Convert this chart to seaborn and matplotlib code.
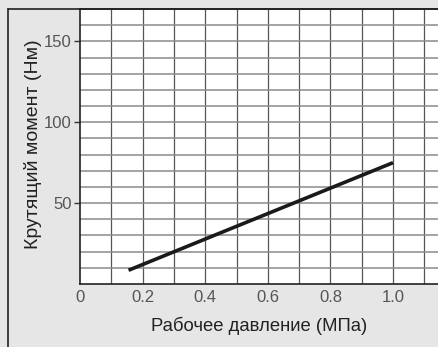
import numpy as np
import pandas as pd
import matplotlib.pyplot as plt
import seaborn as sns
from matplotlib.lines import Line2D

# данные
pressure = [0.155, 1.0]      # МПа
torque = [8.5, 75.0]         # Нм
x_ticks = [0, 0.2, 0.4, 0.6, 0.8, 1.0]
x_labels = ["0", "0.2", "0.4", "0.6", "0.8", "1.0"]
y_ticks = [50, 100, 150]
y_labels = ["50", "100", "150"]

sns.set_theme(style="white")
plt.rcParams['font.family'] = ['Liberation Sans Narrow', 'Liberation Sans', 'DejaVu Sans']

bg = '#e6e6e6'
fig = plt.figure(figsize=(4.38, 3.47), dpi=100, facecolor=bg)
ax = fig.add_axes([80 / 438, 1 - 284 / 347, 1 - 80 / 438, (284 - 9) / 347])
ax.set_facecolor('white')

df = pd.DataFrame({'p': pressure, 't': torque})
sns.lineplot(data=df, x='p', y='t', ax=ax, color='#1a1a1a', linewidth=2.6,
             solid_capstyle='butt')

ax.set_xlim(0, 358 / 313)
ax.set_ylim(0, 170)

# сетка
for xv in np.arange(0.1, 1.15, 0.1):
    ax.axvline(xv, color='#555555', lw=0.9, zorder=0)
for yv in np.arange(10, 171, 10):
    ax.axhline(yv, color='#8a8a8a', lw=1.1, zorder=0)

ax.set_xticks(x_ticks)
ax.set_xticklabels(x_labels)
ax.set_yticks(y_ticks)
ax.set_yticklabels(y_labels)
ax.tick_params(axis='x', length=0, pad=4, labelsize=12, labelcolor='#555555')
ax.tick_params(axis='y', length=4, width=1, color='#333333', pad=2,
               labelsize=12, labelcolor='#555555', left=True)

for s in ['left', 'bottom', 'top']:
    ax.spines[s].set_visible(True)
    ax.spines[s].set_color('#222222')
    ax.spines[s].set_linewidth(1.2)
ax.spines['right'].set_visible(False)

ax.set_xlabel('Рабочее давление (МПа)', fontsize=13.3, color='#222222')
ax.set_ylabel('Крутящий момент (Нм)', fontsize=14, color='#222222')
ax.xaxis.set_label_coords((259 - 80) / 358, -0.12)
ax.yaxis.set_label_coords((42 - 80) / 358, 0.51)

# рамка вокруг рисунка
fig.add_artist(Line2D([8 / 438, 8 / 438], [0, 1 - 9 / 347], transform=fig.transFigure,
                      color='#222222', lw=1.2))
fig.add_artist(Line2D([8 / 438, 1], [1 - 9 / 347, 1 - 9 / 347], transform=fig.transFigure,
                      color='#222222', lw=1.2))

fig.savefig('out.png', dpi=100, facecolor=bg)
